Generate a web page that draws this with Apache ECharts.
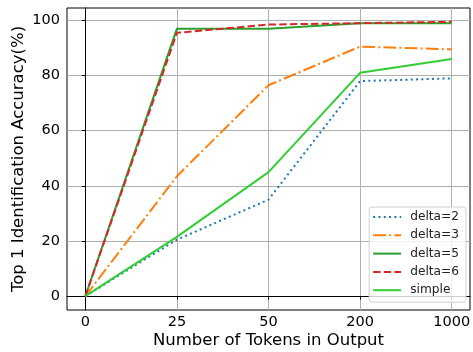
<!DOCTYPE html>
<html>
<head>
<meta charset="utf-8">
<script src="https://cdn.jsdelivr.net/npm/echarts@6/dist/echarts.min.js"></script>
<style>
  html, body { margin: 0; padding: 0; background: #fff; }
  #chart { width: 473px; height: 352px; }
</style>
</head>
<body>
<div id="chart"></div>
<script>
// x positions are evenly spaced, so the axis is category-like
const tokens = ['0', '25', '50', '200', '1000']
const yTicks = [0, 20, 40, 60, 80, 100]

const delta2 = [0, 20.5, 35, 78, 79]
const delta3 = [0, 43.5, 76.5, 90.5, 89.5]
const delta5 = [0, 97, 97, 99, 99]
const delta6 = [0, 95.5, 98.5, 99, 99.5]
const simple = [0, 21.5, 45, 81, 86]

const font = 'DejaVu Sans'

function line (name, values, color, type) {
  return {
    name: name,
    type: 'line',
    symbol: 'none',
    data: values.map((v, i) => [i, v]),
    lineStyle: { color: color, width: 2, type: type },
    itemStyle: { color: color }
  }
}

const chart = echarts.init(document.getElementById('chart'))
chart.setOption({
  animation: false,
  grid: {
    left: 67,
    right: 3,
    top: 8,
    bottom: 42,
    outerBoundsMode: 'none',
    show: true,
    borderColor: '#000',
    borderWidth: 1
  },
  legend: {
    orient: 'vertical',
    right: 7,
    top: 207,
    itemWidth: 28,
    itemHeight: 10,
    itemGap: 6.3,
    padding: [4, 7, 6, 3],
    backgroundColor: 'rgba(255,255,255,0.8)',
    borderColor: '#d0d0d0',
    borderWidth: 1,
    borderRadius: 3,
    itemStyle: { opacity: 0 },
    textStyle: { fontFamily: font, fontSize: 12.2, color: '#222', padding: [0, 0, 0, 4] },
    data: ['delta=2', 'delta=3', 'delta=5', 'delta=6', 'simple']
  },
  xAxis: {
    type: 'value',
    min: -0.2,
    max: 4.2,
    name: 'Number of Tokens in Output',
    nameLocation: 'middle',
    nameGap: 22,
    nameMoveOverlap: false,
    nameTextStyle: { fontFamily: font, fontSize: 16.5, color: '#000' },
    axisLine: { lineStyle: { color: '#000', width: 1 } },
    axisTick: {
      customValues: [0, 1, 2, 3, 4],
      length: 3.5,
      lineStyle: { color: '#000' }
    },
    axisLabel: {
      customValues: [0, 1, 2, 3, 4],
      formatter: v => tokens[Math.round(v)],
      margin: 5,
      fontFamily: font,
      fontSize: 14.5,
      color: '#000'
    },
    splitLine: { show: true, lineStyle: { color: '#b0b0b0', width: 1 } }
  },
  yAxis: {
    type: 'value',
    min: -5,
    max: 104.5,
    name: 'Top 1 Identification Accuracy(%)',
    nameLocation: 'middle',
    nameGap: 40,
    nameMoveOverlap: false,
    nameTextStyle: { fontFamily: font, fontSize: 16.5, color: '#000' },
    axisLine: { show: true, lineStyle: { color: '#000', width: 1 } },
    axisTick: {
      show: true,
      customValues: yTicks,
      length: 3.5,
      lineStyle: { color: '#000' }
    },
    axisLabel: {
      customValues: yTicks,
      margin: 7,
      fontFamily: font,
      fontSize: 14.5,
      color: '#000'
    },
    splitLine: { show: true, lineStyle: { color: '#b0b0b0', width: 1 } }
  },
  series: [
    line('delta=2', delta2, '#1f77b4', [2, 3.3]),
    line('delta=3', delta3, '#ff7f0e', [12.8, 3.2, 2, 3.2]),
    line('delta=5', delta5, '#2ca02c', 'solid'),
    line('delta=6', delta6, '#d62728', [7.4, 3.2]),
    line('simple', simple, '#32cd32', 'solid')
  ]
})
</script>
</body>
</html>
